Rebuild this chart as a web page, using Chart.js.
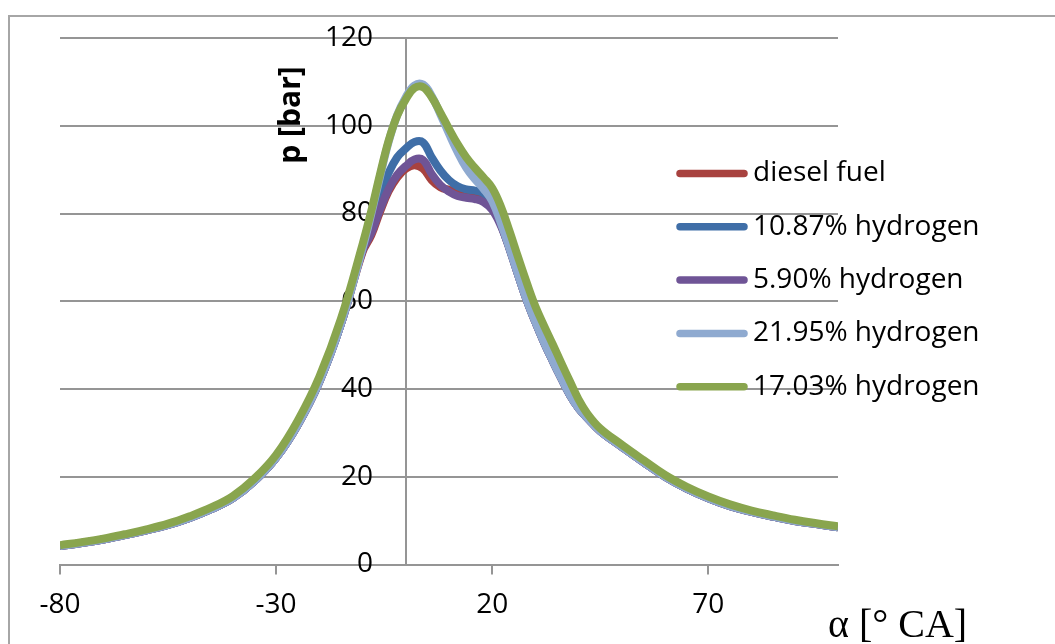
<!DOCTYPE html>
<html>
<head>
<meta charset="utf-8">
<script src="https://cdn.jsdelivr.net/npm/chart.js@4.4.1/dist/chart.umd.min.js"></script>
<style>
  html, body { margin: 0; padding: 0; background: #ffffff; }
  #wrap { width: 1055px; height: 644px; position: relative; }
</style>
</head>
<body>
<div id="wrap"><canvas id="chart"></canvas></div>
<script>
// Crank angle α [° CA]
const angles = [-80, -75, -70, -65, -60, -55, -50, -45, -40, -35, -30, -25, -20, -15, -10,
  -8, -6, -4, -2, 0, 2, 4, 6, 8, 10, 12, 14, 16, 18, 20, 22, 24, 26, 28, 30, 32, 34, 36, 38, 40, 42,
  45, 50, 55, 60, 65, 70, 75, 80, 85, 90, 95, 100];

const xTickValues = [-80, -30, 20, 70];

const seriesLabels = ['diesel fuel', '10.87% hydrogen', '5.90% hydrogen', '21.95% hydrogen', '17.03% hydrogen'];
const seriesColors = ['#a8423f', '#3f6ea7', '#6f5496', '#8faad0', '#89a54e'];

// Cylinder pressure p [bar]
const pDiesel = [4.2, 4.9, 5.7, 6.7, 7.8, 9.0, 10.6, 12.6, 15.1, 19.0, 24.3, 31.8, 41.6, 54.8, 71.2,
  75.0, 80.3, 85.0, 88.2, 90.2, 91.0, 90.2, 87.6, 86.0, 85.4, 85.0, 84.9, 84.8, 84.3, 82.4, 77.6,
  72.0, 66.0, 60.2, 55.2, 50.6, 46.4, 42.4, 38.6, 35.6, 33.4,
  30.4, 26.8, 23.3, 20.0, 17.3, 15.1, 13.3, 12.0, 10.9, 9.9, 9.2, 8.5];

const pH1087 = [4.2, 4.9, 5.7, 6.7, 7.8, 9.0, 10.6, 12.6, 15.1, 19.0, 24.3, 31.8, 41.6, 54.8, 72.0,
  77.5, 84.0, 89.2, 92.8, 94.8, 96.3, 96.2, 92.8, 89.8, 87.6, 86.2, 85.5, 85.2, 84.6, 82.6, 77.6,
  72.0, 66.0, 60.2, 55.2, 50.6, 46.4, 42.4, 38.6, 35.6, 33.4,
  30.4, 26.8, 23.3, 20.0, 17.3, 15.1, 13.3, 12.0, 10.9, 9.9, 9.2, 8.5];

const pH590 = [4.2, 4.9, 5.7, 6.7, 7.8, 9.0, 10.6, 12.6, 15.1, 19.0, 24.3, 31.8, 41.6, 54.8, 71.5,
  75.5, 80.8, 85.5, 88.8, 90.8, 92.3, 92.2, 89.0, 86.5, 85.0, 84.0, 83.6, 83.3, 82.6, 80.8, 77.2,
  72.0, 66.0, 60.2, 55.2, 50.6, 46.4, 42.4, 38.6, 35.6, 33.4,
  30.4, 26.8, 23.3, 20.0, 17.3, 15.1, 13.3, 12.0, 10.9, 9.9, 9.2, 8.5];

const pH2195 = [4.2, 4.9, 5.7, 6.7, 7.8, 9.0, 10.6, 12.6, 15.1, 19.0, 24.3, 31.8, 41.6, 54.8, 72.0,
  79.8, 88.2, 96.2, 102.4, 106.5, 109.2, 109.4, 106.8, 102.6, 98.2, 94.0, 90.4, 87.8, 85.6, 82.8, 77.8,
  72.0, 66.0, 60.2, 55.2, 50.6, 46.4, 42.4, 38.6, 35.6, 33.4,
  30.4, 26.8, 23.3, 20.0, 17.3, 15.1, 13.3, 12.0, 10.9, 9.9, 9.2, 8.5];

const pH1703 = [4.4, 5.1, 5.9, 6.9, 8.0, 9.3, 11.0, 13.0, 15.6, 19.6, 25.0, 32.8, 42.8, 56.0, 73.0,
  80.5, 88.8, 96.5, 102.3, 106.0, 108.6, 108.8, 106.5, 103.0, 99.3, 95.8, 92.8, 90.4, 88.2, 85.8, 81.6,
  76.0, 70.0, 64.2, 58.8, 54.4, 50.2, 45.9, 41.7, 37.6, 34.4,
  31.0, 27.3, 23.8, 20.4, 17.7, 15.5, 13.7, 12.3, 11.2, 10.2, 9.4, 8.7];

const seriesValues = [pDiesel, pH1087, pH590, pH2195, pH1703];

const GRID = '#959595';
const FONT = "'Open Sans', sans-serif";

// Outer frame of the figure (left and top edges)
const framePlugin = {
  id: 'frame',
  beforeDraw(chart) {
    const ctx = chart.ctx;
    ctx.save();
    ctx.strokeStyle = '#a6a6a6';
    ctx.lineWidth = 2;
    ctx.beginPath();
    ctx.moveTo(9, 700);
    ctx.lineTo(9, 16);
    ctx.lineTo(1100, 16);
    ctx.stroke();
    ctx.restore();
  }
};

// Axis titles and the in-plot legend
const annotatePlugin = {
  id: 'annotate',
  afterDraw(chart) {
    const ctx = chart.ctx;
    ctx.save();
    ctx.fillStyle = '#000';
    ctx.font = "bold 30px " + FONT;
    ctx.textAlign = 'center';
    ctx.textBaseline = 'middle';
    ctx.translate(291, 115);
    ctx.rotate(-Math.PI / 2);
    ctx.fillText('p [bar]', 0, 0);
    ctx.restore();

    ctx.save();
    ctx.fillStyle = '#000';
    ctx.font = "40px 'Liberation Serif', serif";
    ctx.textAlign = 'left';
    ctx.textBaseline = 'alphabetic';
    ctx.fillText('α [° CA]', 828, 637);
    ctx.restore();

    ctx.save();
    ctx.font = "28px " + FONT;
    ctx.textAlign = 'left';
    ctx.textBaseline = 'middle';
    chart.data.datasets.forEach((ds, i) => {
      const y = 173.5 + i * 53.3;
      ctx.strokeStyle = ds.borderColor;
      ctx.lineWidth = 7.5;
      ctx.lineCap = 'round';
      ctx.beginPath();
      ctx.moveTo(680, y);
      ctx.lineTo(744, y);
      ctx.stroke();
      ctx.fillStyle = '#000';
      ctx.fillText(ds.label, 753, y);
    });
    ctx.restore();
  }
};

const datasets = seriesLabels.map((label, i) => ({
  label,
  data: angles.map((a, k) => ({ x: a, y: seriesValues[i][k] })),
  borderColor: seriesColors[i],
  backgroundColor: seriesColors[i],
  borderWidth: 8,
  pointRadius: 0,
  tension: 0.4,
  fill: false,
  order: seriesLabels.length - i
}));

const tickFont = { family: FONT, size: 28 };

new Chart(document.getElementById('chart'), {
  type: 'line',
  data: { datasets },
  options: {
    responsive: true,
    maintainAspectRatio: false,
    animation: false,
    events: [],
    layout: { padding: { left: 60, top: 38, right: 217, bottom: 0 } },
    plugins: { legend: { display: false }, tooltip: { enabled: false } },
    scales: {
      x: {
        type: 'linear',
        min: -80,
        max: 100,
        afterBuildTicks: s => { s.ticks = xTickValues.map(v => ({ value: v })); },
        afterFit: s => { s.height = 79.5; },
        grid: { drawOnChartArea: false, drawTicks: true, tickLength: 10, color: GRID, lineWidth: 2 },
        border: { display: true, color: GRID, width: 2 },
        ticks: { color: '#000', font: tickFont, padding: 14, maxRotation: 0, autoSkip: false }
      },
      // value axis crossing at α = 0: gridlines and axis line
      y: {
        type: 'linear',
        position: { x: 0 },
        min: 0,
        max: 120,
        grid: { color: GRID, lineWidth: 2, drawTicks: true, tickLength: 10 },
        border: { display: true, color: GRID, width: 2 },
        ticks: { stepSize: 20, display: false }
      },
      // tick labels of the value axis, set just left of the crossing
      yLabels: {
        type: 'linear',
        axis: 'y',
        position: { x: -7.6 },
        min: 0,
        max: 120,
        grid: { display: false },
        border: { display: false },
        ticks: { stepSize: 20, color: '#000', font: tickFont }
      }
    }
  },
  plugins: [framePlugin, annotatePlugin]
});
</script>
</body>
</html>
